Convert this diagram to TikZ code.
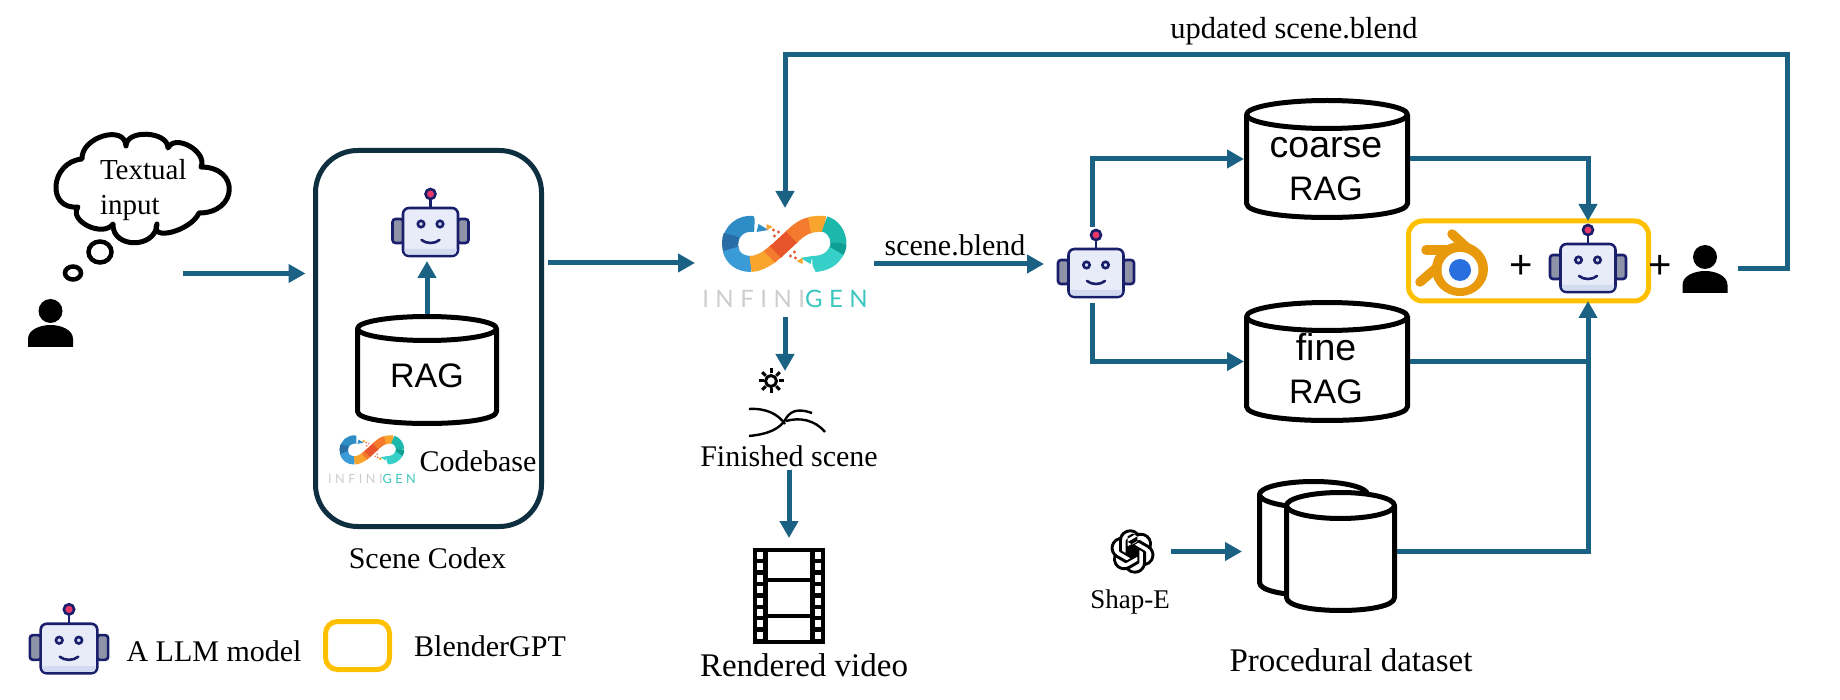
\documentclass[tikz,border=0pt]{standalone}
\usepackage{fontspec}
\setmainfont{Liberation Serif}
\newfontfamily\rsans{Liberation Sans}
\newfontfamily\logofont[LetterSpace=27]{Lato}
\usetikzlibrary{arrows.meta,calc,svg.path}
\definecolor{flowc}{HTML}{1B6184}
\definecolor{codexc}{HTML}{0E2F40}
\definecolor{goldc}{HTML}{FFC000}
\definecolor{navyc}{HTML}{1A1F6B}
\definecolor{bodyc}{HTML}{E8ECF8}
\definecolor{shadec}{HTML}{D3DBF0}
\definecolor{earc}{HTML}{8E93A8}
\definecolor{ballc}{HTML}{E8386A}
\definecolor{blendo}{HTML}{E8990C}
\definecolor{blendb}{HTML}{2A6FE0}
\definecolor{infa}{HTML}{2F8DC6}
\definecolor{infb}{HTML}{2A6DA6}
\definecolor{infc}{HTML}{3A9BD6}
\definecolor{infd}{HTML}{F9A52D}
\definecolor{infe}{HTML}{F47B2E}
\definecolor{inff}{HTML}{E9552A}
\definecolor{infg}{HTML}{1CB8AC}
\definecolor{infh}{HTML}{0F9F92}
\definecolor{infi}{HTML}{36D0C8}
\tikzset{
  flowline/.style={draw=flowc,line width=5pt},
  flow/.style={flowline,-{Triangle[length=17pt,width=18pt]}},
  iconbox/.style={inner sep=0pt,outer sep=0pt,draw=none,rectangle},
  lab/.style={inner sep=0pt,outer sep=0pt,font=\fontsize{30}{36}\selectfont},
  biglab/.style={inner sep=0pt,outer sep=0pt,font=\fontsize{33}{40}\selectfont},
  raglab/.style={inner sep=0pt,outer sep=0pt,font=\rsans\fontsize{34}{40}\selectfont},
  raglabb/.style={inner sep=0pt,outer sep=0pt,font=\rsans\fontsize{37.5}{40}\selectfont},
  pluslab/.style={inner sep=0pt,outer sep=0pt,font=\rsans\fontsize{40}{40}\selectfont},
  dbline/.style={draw=black,line width=5pt,fill=white,line join=round},
}
% robot: name, cx, cy, scale
\newcommand{\robotfig}[4]{%
  \node[iconbox,minimum width={76*#4},minimum height={48*#4}] (#1) at (#2,#3) {};
  \begin{scope}[shift={(#2,#3)},scale=#4,draw=navyc,line width=2.6pt]
    \draw[fill=earc,rounded corners=3pt] (-27,-13) rectangle (-38,11);
    \draw[fill=earc,rounded corners=3pt] (27,-13) rectangle (38,11);
    \draw[fill=bodyc,rounded corners=6pt] (-27.5,-24) rectangle (27.5,24);
    \fill[shadec] (-26,17) -- (26,17) -- (26,19) .. controls (26,22) and (24,22.7) .. (22,22.7) -- (-22,22.7) .. controls (-24,22.7) and (-26,22) .. (-26,19) -- cycle;
    \draw (0,-24) -- (0,-33);
    \draw[fill=ballc] (0,-38) circle[radius=5pt];
    \draw[fill=shadec] (-9.5,-8) circle[radius=3.2pt];
    \draw[fill=shadec] (9.5,-8) circle[radius=3.2pt];
    \draw[line cap=round] (-9,8) .. controls (-4,12) and (4,12) .. (9,8);
  \end{scope}}
% person: name, head cx, head cy
\newcommand{\userfig}[3]{%
  \node[iconbox,minimum width=45pt,minimum height=47pt] (#1) at (#2,{#3+12}) {};
  \begin{scope}[shift={(#2,#3)}]
    \fill[black] (0,0) circle[radius=12pt];
    \fill[black] (-22.5,36) -- (-22.5,28) .. controls (-22.5,19) and (-11,14) .. (0,14) .. controls (11,14) and (22.5,19) .. (22.5,28) -- (22.5,36) -- cycle;
  \end{scope}}
% cylinder: name, L, R, T, B, ry (outer box)
\newcommand{\dbcyl}[6]{%
  \draw[dbline] ({#2+2.5},{#4+2.5+#6}) -- ({#2+2.5},{#5-2.5-#6}) .. controls ({#2+2.5},{#5-2.5-#6*.35}) and ({(#2+#3)/2-(#3-#2)*.25},{#5-2.5}) .. ({(#2+#3)/2},{#5-2.5}) .. controls ({(#2+#3)/2+(#3-#2)*.25},{#5-2.5}) and ({#3-2.5},{#5-2.5-#6*.35}) .. ({#3-2.5},{#5-2.5-#6}) -- ({#3-2.5},{#4+2.5+#6});
  \draw[dbline] ({(#2+#3)/2},{#4+2.5+#6}) ellipse ({(#3-#2)/2-2.5} and #6);
  \node[iconbox,minimum width={#3-#2},minimum height={#5-#4}] (#1) at ({(#2+#3)/2},{(#4+#5)/2}) {};}
% infinity logo: cx, cy, scale
\newcommand{\infinilogo}[3]{%
  \begin{scope}[shift={(#1,#2)},scale=#3,line width={16*#3}]
    \draw[draw=infa] (-30,-20) .. controls (-44,-22) and (-54,-12) .. (-54,-1);
    \draw[draw=infb] (-53,8) .. controls (-55,2) and (-55,-4) .. (-53,-9);
    \draw[draw=infc] (-54,5) .. controls (-52,14) and (-45,20) .. (-33,20);
    \draw[draw=infd] (-34,20) .. controls (-27,20) and (-20,16) .. (-14,12);
    \draw[draw=infe] (-15,13) .. controls (-12,10) and (-10,8) .. (-8,7);
    \draw[draw=inff] (-9,8) .. controls (-4,3) and (3,-3) .. (8,-8);
    \draw[draw=infe] (7,-7) .. controls (13,-13) and (20,-18) .. (26,-19);
    \draw[draw=infd] (25,-19) .. controls (30,-20) and (35,-20.5) .. (41,-20);
    \draw[draw=infg] (40,-20) .. controls (48,-18) and (54,-10) .. (54,0);
    \draw[draw=infh] (54,-1) .. controls (54,3) and (53,6) .. (51,9);
    \draw[draw=infi] (52,7) .. controls (48,15) and (40,20) .. (28,20);
    \fill[white] (-32,-30) -- (-22,-28) -- (-25,-16) -- cycle;
    \fill[infa] (-26,-20) -- (-16,-14) -- (-28,-12) -- cycle;
    \fill[infd] (-18,-20) -- (-12,-17) -- (-18,-14) -- cycle;
    \fill[inff] (-11,-14) circle[radius=1.6] (-6,-12) circle[radius=1.6] (-10,-8) circle[radius=1.6];
    \fill[white] (32,30) -- (22,28) -- (25,16) -- cycle;
    \fill[infi] (26,20) -- (16,14) -- (28,12) -- cycle;
    \fill[infd] (18,20) -- (12,17) -- (18,14) -- cycle;
    \fill[inff] (11,14) circle[radius=1.6] (6,12) circle[radius=1.6] (10,8) circle[radius=1.6];
  \end{scope}}
\newcommand{\infinitext}{\textcolor[HTML]{CDCDCD}{INFINI}\textcolor[HTML]{3CC6BE}{GEN}}
\begin{document}
\begin{tikzpicture}[x=1pt,y=-1pt]
\useasboundingbox (0,0) rectangle (1840,700);

% user and thought cloud
\userfig{userA}{50.5}{311}
\draw[black,line width=5pt,fill=white,line join=round] (82,159)
  .. controls (81,137) and (125,124) .. (126,146)
  .. controls (126,129) and (168,131) .. (168,148)
  .. controls (175,133) and (208,152) .. (201,167)
  .. controls (240,167) and (238,213) .. (199,213)
  .. controls (191,231) and (149,242) .. (157,224)
  .. controls (156,249) and (112,249) .. (113,224)
  .. controls (103,238) and (68,221) .. (78,207)
  .. controls (46,210) and (50,162) .. (82,159) -- cycle;
\draw[black,line width=4.5pt] (100,252) ellipse (11.5 and 10.5);
\draw[black,line width=4.5pt] (73,273) ellipse (8 and 6.5);
\node[lab,anchor=west,align=left,font=\fontsize{29}{35}\selectfont] (cloudtext) at (100,190) {Textual\\input};

% scene codex
\node[iconbox,draw=codexc,line width=5pt,rounded corners=42pt,minimum width=226pt,minimum height=376pt] (codex) at (428.5,338.5) {};
\dbcyl{rag}{355}{499}{314}{426}{12}
\node[raglab] (ragtext) at (427,375.5) {RAG};
\robotfig{robotA}{430.5}{232}{1}
\infinilogo{372}{450}{0.52}
\node[inner sep=0pt,font=\logofont\fontsize{12.7}{14}\selectfont] (logosmall) at (372,479) {\infinitext};
\node[lab] (codebase) at (478,461) {Codebase};
\node[lab] (codexlab) at (427.5,558) {Scene Codex};

% infinigen
\node[iconbox,minimum width=164pt,minimum height=88pt] (infinigen) at (785,264) {};
\infinilogo{784.5}{244}{1}
\node[inner sep=0pt,font=\logofont\fontsize{24}{26}\selectfont] (logobig) at (785,299) {\infinitext};

% finished scene
\node[iconbox,minimum width=24pt,minimum height=20pt] (sun) at (771,381) {};
\draw[black,line width=3pt] (771,381) circle[radius=5.5pt];
\foreach \a in {0,45,...,315} {
  \draw[black,line width=3pt] ($(771,381)+(\a:7.5)$) -- ($(771,381)+(\a:12.5)$);
}
\draw[black,line width=2.4pt] (749,409) .. controls (766,408) and (778,414) .. (785,424);
\draw[black,line width=2.4pt] (749,436) .. controls (770,434) and (780,428) .. (785,420) .. controls (789,413) and (795,407) .. (812,413);
\draw[black,line width=2.4pt] (786,421) .. controls (800,417) and (815,420) .. (825,432);
\node[lab] (finished) at (789,456) {Finished scene};

% film strip
\node[iconbox,fill=black,minimum width=72pt,minimum height=96pt] (film) at (789,596) {};
\fill[white] (768,552) rectangle (810,578);
\fill[white] (768,582) rectangle (810,614);
\fill[white] (768,618) rectangle (810,640);
\foreach \i in {0,...,7} {
  \fill[white] (757,{552+\i*11.4}) rectangle (763,{559+\i*11.4});
  \fill[white] (815,{552+\i*11.4}) rectangle (821,{559+\i*11.4});
}
\node[biglab] (rendered) at (804,665) {Rendered video};

% router robot
\robotfig{robotB}{1096}{273}{1}

% rag databases
\dbcyl{coarse}{1244}{1410}{98}{220}{14}
\node[raglabb] (coarsetext) at (1326,148) {coarse};
\node[raglab] (coarserag) at (1326,189) {RAG};
\dbcyl{fine}{1244}{1410}{300}{423}{14}
\node[raglabb] (finetext) at (1326,347) {fine};
\node[raglab] (finerag) at (1326,392) {RAG};

% blender gpt
\node[iconbox,draw=goldc,line width=5pt,rounded corners=14pt,minimum width=240pt,minimum height=80pt] (gbox) at (1528.5,261) {};
\begin{scope}[shift={(1460,270)}]
  \draw[blendo,line width=9.5pt,line cap=round] (-8,-36) -- (16,-14);
  \draw[blendo,line width=9.5pt,line cap=round] (-34,-20) -- (10,-20);
  \draw[blendo,line width=9.5pt,line cap=round] (-40,12) -- (-12,-12);
  \fill[blendo] (0,-1) ellipse (28 and 27);
  \fill[white] (0,0) ellipse (18.5 and 18);
  \fill[blendb] (0,0) ellipse (11 and 11);
\end{scope}
\node[pluslab] (plusA) at (1521,267) {+};
\robotfig{robotC}{1588}{268}{1}
\node[pluslab] (plusB) at (1660,267) {+};
\userfig{userB}{1705}{257}

% procedural dataset
\dbcyl{datasetB}{1257}{1370}{479}{598}{13}
\dbcyl{datasetF}{1284}{1397}{490}{613}{13}
\node[biglab] (procedural) at (1351,660) {Procedural dataset};
\node[iconbox,minimum width=44pt,minimum height=44pt] (openai) at (1132.5,551.5) {};
\begin{scope}[shift={(1132.5,551.5)},scale=1.85,yscale=-1,shift={(-12pt,-12pt)}]
  \fill[black,even odd rule] svg {M22.2819 9.8211a5.9847 5.9847 0 0 0 -.5157 -4.9108 6.0462 6.0462 0 0 0 -6.5098 -2.9A6.0651 6.0651 0 0 0 4.9807 4.1818a5.9847 5.9847 0 0 0 -3.9977 2.9 6.0462 6.0462 0 0 0 .7427 7.0966 5.98 5.98 0 0 0 .511 4.9107 6.051 6.051 0 0 0 6.5146 2.9001A5.9847 5.9847 0 0 0 13.2599 24a6.0557 6.0557 0 0 0 5.7718 -4.2058 5.9894 5.9894 0 0 0 3.9977 -2.9001 6.0557 6.0557 0 0 0 -.7475 -7.0729z m-9.022 12.6081a4.4755 4.4755 0 0 1 -2.8764 -1.0408l.1419 -.0804 4.7783 -2.7582a.7948 .7948 0 0 0 .3927 -.6813v-6.7369l2.02 1.1686a.071 .071 0 0 1 .038 .052v5.5826a4.504 4.504 0 0 1 -4.4945 4.4944z m-9.6607 -4.1254a4.4708 4.4708 0 0 1 -.5346 -3.0137l.142 .0852 4.783 2.7582a.7712 .7712 0 0 0 .7806 0l5.8428 -3.3685v2.3324a.0804 .0804 0 0 1 -.0332 .0615L9.74 19.9502a4.4992 4.4992 0 0 1 -6.1408 -1.6464z M2.3408 7.8956a4.485 4.485 0 0 1 2.3655 -1.9728V11.6a.7664 .7664 0 0 0 .3879 .6765l5.8144 3.3543 -2.0201 1.1685a.0757 .0757 0 0 1 -.071 0l-4.8303 -2.7865A4.504 4.504 0 0 1 2.3408 7.872z m16.5963 3.8558L13.1038 8.364 15.1192 7.2a.0757 .0757 0 0 1 .071 0l4.8303 2.7913a4.4944 4.4944 0 0 1 -.6765 8.1042v-5.6772a.79 .79 0 0 0 -.407 -.667z m2.0107 -3.0231l-.142 -.0852 -4.7735 -2.7818a.7759 .7759 0 0 0 -.7854 0L9.409 9.2297V6.8974a.0662 .0662 0 0 1 .0284 -.0615l4.8303 -2.7866a4.4992 4.4992 0 0 1 6.6802 4.66z M8.3065 12.863l-2.02 -1.1638a.0804 .0804 0 0 1 -.038 -.0567V6.0742a4.4992 4.4992 0 0 1 7.3757 -3.4537l-.142 .0805L8.704 5.459a.7948 .7948 0 0 0 -.3927 .6813z m1.0976 -2.3654l2.602 -1.4998 2.6069 1.4998v2.9994l-2.5974 1.4997 -2.6067 -1.4997Z};
\end{scope}
\node[lab,font=\fontsize{27}{32}\selectfont] (shape) at (1130,602) {Shap-E};

% legend
\robotfig{robotL}{69}{648.5}{1.03}
\node[lab] (lmodel) at (214,651) {A LLM model};
\node[iconbox,draw=goldc,line width=5pt,rounded corners=12pt,minimum width=64pt,minimum height=48pt] (goldkey) at (357.5,645.5) {};
\node[lab] (lblender) at (490,646) {BlenderGPT};

% free ends of connectors
\coordinate (userout) at (183,273.5);
\coordinate (codexout) at (548,263);
\coordinate (fbright) at (1787,55);
\coordinate (fbleft) at (785,55);

% connectors
\draw[flow,shorten >=10pt] (userout) -- (userout -| codex.west);
\draw[flow,shorten >=5pt] (rag.north) -- (rag.north |- robotA.south);
\draw[flow,shorten >=8pt] (codexout) -- (codexout -| infinigen.west);
\draw[flow,shorten <=7pt,shorten >=14pt] (infinigen.east) -- (infinigen.east -| robotB.west);
\draw[flow,shorten <=9pt] (infinigen.south) -- (infinigen.south |- sun.north);
\draw[flow,shorten <=3pt,shorten >=10pt] (finished.south) -- (finished.south |- film.north);
\draw[flow,shorten <=22pt] ([xshift=-3.5pt]robotB.north) |- (coarse.west);
\draw[flow,shorten <=6pt] ([xshift=-3.5pt]robotB.south) |- (fine.west);
\draw[flow] (coarse.east) -| (robotC |- gbox.north);
\draw[flowline] (fine.east) -- (fine.east -| robotC);
\draw[flow] (datasetF.east) -| (robotC |- gbox.south);
\draw[flow,shorten <=16pt,shorten >=15pt] (openai.east) -- (openai.east -| datasetB.west);
\draw[flowline,-{Triangle[length=17pt,width=18pt]},line join=miter,shorten <=10pt,shorten >=12pt] (userB.east) -| (fbright) -- (fbleft) -- (infinigen.north);

% edge labels
\node[lab] (blendlab) at (955,245) {scene.blend};
\node[lab,font=\fontsize{30.5}{36}\selectfont] (updatedlab) at (1294,31.5) {updated scene.blend};
\end{tikzpicture}
\end{document}
